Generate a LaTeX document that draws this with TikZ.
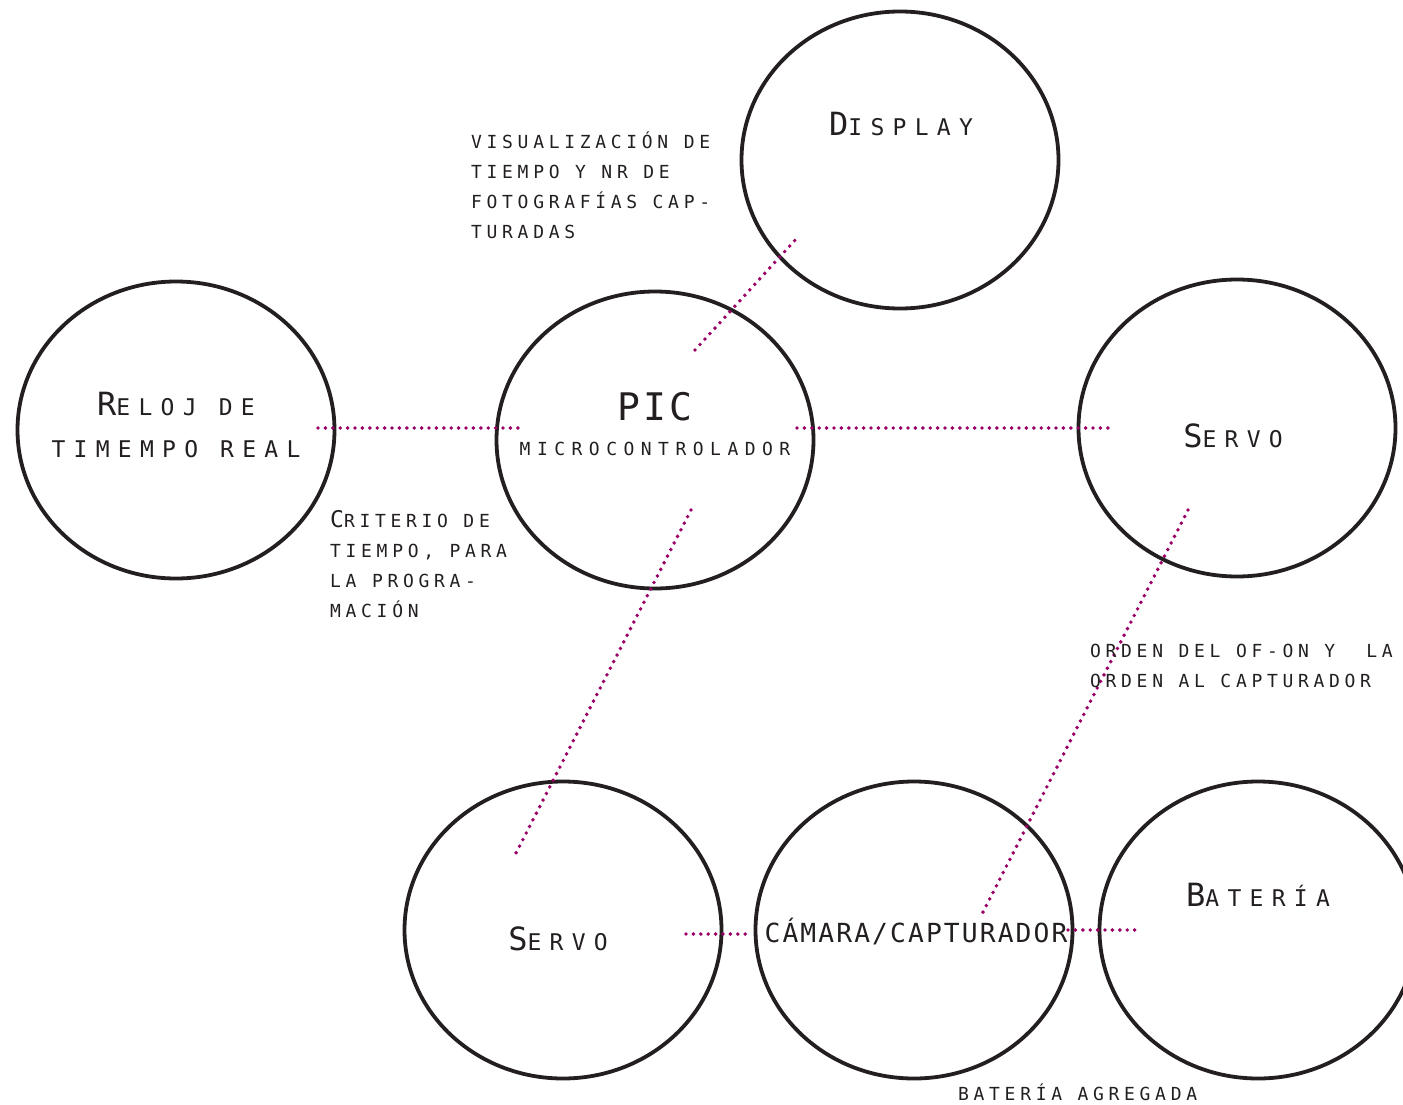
\documentclass[tikz,border=0pt]{standalone}
\usepackage{fontspec}
\usetikzlibrary{shapes.geometric,calc}

\newfontfamily\lblfont[LetterSpace=26]{DejaVu Sans Mono}
\newfontfamily\ttlfont[LetterSpace=36]{DejaVu Sans Mono}
\newfontfamily\picfont[LetterSpace=8]{DejaVu Sans Mono}

\definecolor{linkmag}{RGB}{153,0,102}
\definecolor{inkgray}{RGB}{35,31,32}

% first letter of a small-caps title
\newcommand\initcap[1]{{\fontsize{32}{32}\selectfont #1}}

\tikzset{
  block/.style={draw=inkgray, line width=3.8pt, ellipse, minimum width=317pt, minimum height=297pt, inner sep=0pt},
  link/.style={draw=linkmag, line width=3.9pt, line cap=round, dash pattern=on 0pt off 7.4pt},
  title/.style={text=inkgray, font=\ttlfont\fontsize{23}{42}\selectfont, align=center, anchor=base, inner sep=0pt},
  note/.style={text=inkgray, font=\lblfont\fontsize{18}{30}\selectfont, align=left, anchor=base west, inner sep=0pt}
}

\begin{document}
\begin{tikzpicture}[x=1pt,y=-1pt]
\useasboundingbox (0,0) rectangle (1403,1105);

% blocks
\node[block] (reloj) at (176,430) {};
\node[block] (pic) at (655,440) {};
\node[block] (display) at (900,160) {};
\node[block] (servoa) at (1237,428) {};
\node[block] (servob) at (563,930) {};
\node[block] (camara) at (914,930) {};
\node[block] (bateria) at (1258,930) {};

% titles (base anchor sits on the last line)
\node[title] (relojt) at (176,457) {\initcap{R}ELOJ DE\\TIMEMPO REAL};
\node[title, font=\picfont\fontsize{38}{38}\selectfont] (pict) at (655,420) {PIC};
\node[title, font=\ttlfont\fontsize{18}{20}\selectfont] (picsub) at (655,455) {MICROCONTROLADOR};
\node[title] (displayt) at (901,136) {\initcap{D}ISPLAY};
\node[title] (servoat) at (1233,447) {\initcap{S}ERVO};
\node[title] (servobt) at (558,950) {\initcap{S}ERVO};
\node[title, font=\picfont\fontsize{26.3}{28}\selectfont] (camarat) at (916,942) {CÁMARA/CAPTURADOR};
\node[title] (bateriat) at (1258,906) {\initcap{B}ATERÍA};

% links
\draw[link] ($(reloj.center)+(142,-2)$) -- ($(pic.center)+(-132,-12)$);
\draw[link] ($(pic.center)+(142,-12)$) -- ($(servoa.center)+(-122,0)$);
\draw[link] ($(pic.center)+(40,-90)$) -- ($(display.center)+(-103,78)$);
\draw[link] ($(pic.center)+(36,70)$) -- ($(servob.center)+(-49,-73)$);
\draw[link] ($(servoa.center)+(-49,82)$) -- ($(camara.center)+(66,-12)$);
\draw[link] ($(servob.center)+(123,4)$) -- ($(camara.center)+(-162,4)$);
\draw[link] ($(camara.center)+(154,0)$) -- ($(bateria.center)+(-118,0)$);

% notes
\node[note] (visu) at (471,238.5) {VISUALIZACIÓN DE\\TIEMPO Y NR DE\\FOTOGRAFÍAS CAP-\\TURADAS};
\node[note] (crit) at (330,617) {{\fontsize{23}{30}\selectfont C}RITERIO DE\\TIEMPO, PARA\\LA PROGRA-\\MACIÓN};
\node[note] (orden) at (1090,687) {ORDEN DEL OF-ON Y\ \ LA\\ORDEN AL CAPTURADOR};
\node[note] (agreg) at (958,1100) {BATERÍA AGREGADA};
\end{tikzpicture}
\end{document}
